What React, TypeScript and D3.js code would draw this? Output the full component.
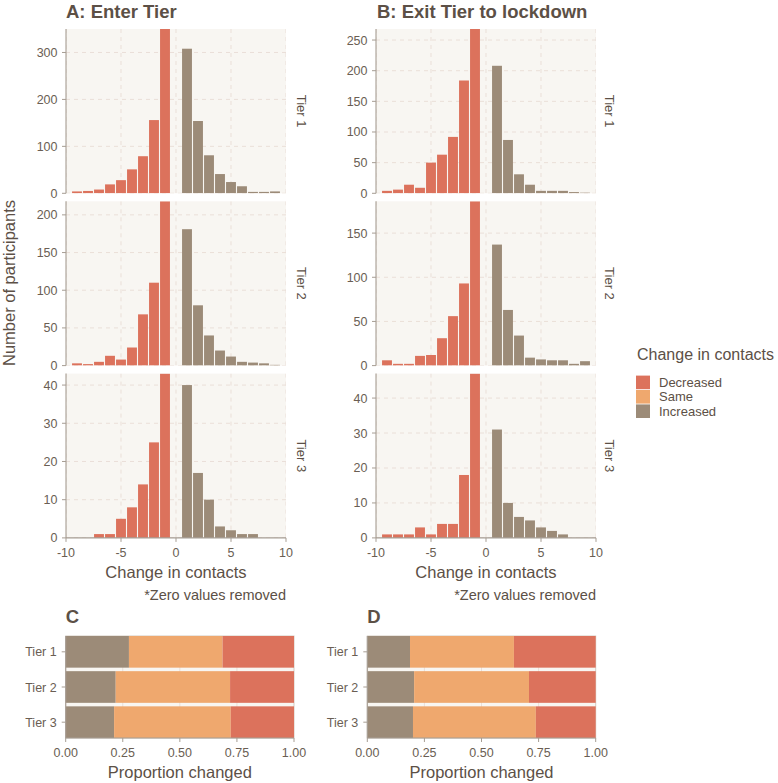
import React from "react";
import * as d3 from "d3";

// ---------- DATA ----------
const changeValues = [-9, -8, -7, -6, -5, -4, -3, -2, -1, 1, 2, 3, 4, 5, 6, 7, 8, 9];
const tierLabels = ["Tier 1", "Tier 2", "Tier 3"];
const categories = ["Decreased", "Same", "Increased"];

// A: Enter Tier (counts per change value)
const enterTier1 = [4, 5, 8, 19, 28, 51, 79, 156, 350, 308, 154, 81, 41, 24, 15, 3, 3, 4];
const enterTier2 = [3, 2, 5, 13, 8, 24, 68, 110, 218, 181, 80, 40, 20, 12, 5, 4, 3, 1];
const enterTier3 = [0, 0, 1, 1, 5, 8, 14, 25, 43, 40, 17, 10, 3, 2, 1, 1, 0, 0];

// B: Exit Tier to lockdown
const exitTier1 = [4, 6, 14, 9, 50, 63, 92, 184, 268, 208, 87, 31, 14, 4, 4, 4, 2, 1];
const exitTier2 = [6, 2, 2, 11, 12, 31, 56, 93, 186, 137, 63, 34, 9, 7, 6, 6, 2, 5];
const exitTier3 = [1, 1, 1, 3, 1, 4, 4, 18, 47, 31, 10, 6, 5, 3, 2, 1, 0, 0];

// C / D: proportion changed (Increased, Same, Decreased) per tier
const enterIncreased = [0.277, 0.219, 0.212];
const enterSame = [0.41, 0.501, 0.511];
const enterDecreased = [0.313, 0.28, 0.277];
const exitIncreased = [0.187, 0.205, 0.2];
const exitSame = [0.455, 0.503, 0.538];
const exitDecreased = [0.358, 0.292, 0.262];

const xTicks = [-10, -5, 0, 5, 10];
const propTicks = [0, 0.25, 0.5, 0.75, 1];

// ---------- STYLE ----------
const FONT = "'Liberation Sans', Arial, Helvetica, sans-serif";
const COLORS: Record<string, string> = {
  Decreased: "#DC725C",
  Same: "#EFA86E",
  Increased: "#9C8B78",
};
const PANEL_BG = "#F8F6F2";
const GRID = "#EADFD8";
const AXIS = "#A69D93";
const TEXT = "#5C5046";
const TICK_TEXT = "#6A5E53";

const panelTops = [29, 201.3, 373.6];
const panelH = 164.3;

type HistProps = {
  id: string;
  x0: number;
  x1: number;
  top: number;
  counts: number[];
  showXAxis: boolean;
  strip: string;
  stripX: number;
};

function HistPanel({ id, x0, x1, top, counts, showXAxis, strip, stripX }: HistProps) {
  const bottom = top + panelH;
  const x = d3.scaleLinear().domain([-10, 10]).range([x0, x1]);
  const y = d3.scaleLinear().domain([0, d3.max(counts) as number]).range([bottom, top]);
  const yTicks = y.ticks(4);
  const bw = (x(1) - x(0)) * 0.9;
  return (
    <g>
      <defs>
        <clipPath id={id}>
          <rect x={x0} y={top} width={x1 - x0} height={panelH} />
        </clipPath>
      </defs>
      <rect x={x0} y={top} width={x1 - x0} height={panelH} fill={PANEL_BG} />
      <g clipPath={`url(#${id})`}>
        {xTicks.map((t) => (
          <line key={"gx" + t} x1={x(t)} x2={x(t)} y1={top} y2={bottom} stroke={GRID} strokeWidth={1} strokeDasharray="4,4" />
        ))}
        {yTicks.map((t) => (
          <line key={"gy" + t} x1={x0} x2={x1} y1={y(t)} y2={y(t)} stroke={GRID} strokeWidth={1} strokeDasharray="4,4" />
        ))}
        {changeValues.map((v, i) => (
          <rect
            key={"b" + v}
            x={x(v) - bw / 2}
            width={bw}
            y={y(counts[i])}
            height={bottom - y(counts[i])}
            fill={v < 0 ? COLORS.Decreased : COLORS.Increased}
          />
        ))}
      </g>
      <line x1={x0} x2={x0} y1={top} y2={bottom} stroke={AXIS} strokeWidth={1.1} />
      {yTicks.map((t) => (
        <g key={"ty" + t}>
          <line x1={x0 - 4} x2={x0} y1={y(t)} y2={y(t)} stroke={AXIS} strokeWidth={1} />
          <text x={x0 - 8.5} y={y(t)} dy="0.36em" textAnchor="end" fontSize={12.5} fill={TICK_TEXT} fontFamily={FONT}>
            {t}
          </text>
        </g>
      ))}
      {showXAxis && (
        <g>
          <line x1={x0} x2={x1} y1={bottom} y2={bottom} stroke={AXIS} strokeWidth={1.1} />
          {xTicks.map((t) => (
            <g key={"tx" + t}>
              <line x1={x(t)} x2={x(t)} y1={bottom} y2={bottom + 4} stroke={AXIS} strokeWidth={1} />
              <text x={x(t)} y={556.5} textAnchor="middle" fontSize={12.5} fill={TICK_TEXT} fontFamily={FONT}>
                {t}
              </text>
            </g>
          ))}
        </g>
      )}
      <text
        transform={`translate(${stripX},${top + panelH / 2}) rotate(90)`}
        textAnchor="middle"
        dy="0.36em"
        fontSize={13}
        fill={TEXT}
        fontFamily={FONT}
      >
        {strip}
      </text>
    </g>
  );
}

type PropProps = {
  id: string;
  x0: number;
  x1: number;
  title: string;
  increased: number[];
  same: number[];
  decreased: number[];
};

function PropPanel({ x0, x1, title, increased, same, decreased }: PropProps) {
  const top = 636;
  const bottom = 738;
  const x = d3.scaleLinear().domain([0, 1]).range([x0, x1]);
  const yb = d3.scaleBand().domain(tierLabels).range([top, bottom]).paddingInner(0.1).paddingOuter(0);
  const rows = tierLabels.map((t, i) => ({ tier: t, Increased: increased[i], Same: same[i], Decreased: decreased[i] }));
  const stack = d3.stack<any>().keys(["Increased", "Same", "Decreased"]);
  const series = stack(rows);
  return (
    <g>
      <text x={x0} y={622.7} fontSize={18.5} fontWeight="bold" fill={TEXT} fontFamily={FONT}>
        {title}
      </text>
      <rect x={x0} y={top} width={x1 - x0} height={bottom - top} fill={PANEL_BG} stroke="#D3CBC2" strokeWidth={1} />
      {propTicks.slice(1, 4).map((t) => (
        <line key={"g" + t} x1={x(t)} x2={x(t)} y1={top} y2={bottom} stroke={GRID} strokeWidth={1} />
      ))}
      {series.map((s) => (
        <g key={s.key} fill={COLORS[s.key]}>
          {s.map((d: any, i: number) => (
            <rect
              key={i}
              x={x(d[0])}
              width={x(d[1]) - x(d[0])}
              y={yb(d.data.tier) as number}
              height={yb.bandwidth()}
            />
          ))}
        </g>
      ))}
      <line x1={x0} x2={x0} y1={top} y2={bottom} stroke={AXIS} strokeWidth={1.1} />
      <line x1={x0} x2={x1} y1={bottom} y2={bottom} stroke={AXIS} strokeWidth={1.1} />
      {tierLabels.map((t) => {
        const cy = (yb(t) as number) + yb.bandwidth() / 2;
        return (
          <g key={t}>
            <line x1={x0 - 4} x2={x0} y1={cy} y2={cy} stroke={AXIS} strokeWidth={1} />
            <text x={x0 - 9} y={cy} dy="0.36em" textAnchor="end" fontSize={12.5} fill={TICK_TEXT} fontFamily={FONT}>
              {t}
            </text>
          </g>
        );
      })}
      {propTicks.map((t) => (
        <g key={"t" + t}>
          <line x1={x(t)} x2={x(t)} y1={bottom} y2={bottom + 4} stroke={AXIS} strokeWidth={1} />
          <text x={x(t)} y={756.5} textAnchor="middle" fontSize={12.5} fill={TICK_TEXT} fontFamily={FONT}>
            {t.toFixed(2)}
          </text>
        </g>
      ))}
      <text x={(x0 + x1) / 2} y={777.5} textAnchor="middle" fontSize={16.5} fill={TEXT} fontFamily={FONT}>
        Proportion changed
      </text>
    </g>
  );
}

export default function App() {
  const enterCounts = [enterTier1, enterTier2, enterTier3];
  const exitCounts = [exitTier1, exitTier2, exitTier3];
  const A = { x0: 66, x1: 286, strip: 302 };
  const B = { x0: 376, x1: 596, strip: 610 };
  const keyTop = 375.6;
  const keyStep = 14.4;
  return (
    <svg
      width={778}
      height={783}
      style={{ position: "absolute", left: 0, top: 0, background: "#ffffff" }}
      fontFamily={FONT}
    >
      <rect x={0} y={0} width={778} height={783} fill="#ffffff" />
      {/* Titles */}
      <text x={A.x0} y={17.5} fontSize={18.5} fontWeight="bold" fill={TEXT}>
        A: Enter Tier
      </text>
      <text x={B.x0 + 1} y={17.5} fontSize={18.5} fontWeight="bold" fill={TEXT}>
        B: Exit Tier to lockdown
      </text>

      {/* Y axis title */}
      <text transform={`translate(9,283) rotate(-90)`} textAnchor="middle" dy="0.36em" fontSize={16.5} fill={TEXT}>
        Number of participants
      </text>

      {tierLabels.map((t, i) => (
        <HistPanel
          key={"A" + t}
          id={"clipA" + i}
          x0={A.x0}
          x1={A.x1}
          top={panelTops[i]}
          counts={enterCounts[i]}
          showXAxis={i === 2}
          strip={t}
          stripX={A.strip}
        />
      ))}
      {tierLabels.map((t, i) => (
        <HistPanel
          key={"B" + t}
          id={"clipB" + i}
          x0={B.x0}
          x1={B.x1}
          top={panelTops[i]}
          counts={exitCounts[i]}
          showXAxis={i === 2}
          strip={t}
          stripX={B.strip}
        />
      ))}

      {/* X axis titles and notes */}
      {[A, B].map((p, i) => (
        <g key={"xt" + i}>
          <text x={(p.x0 + p.x1) / 2} y={577.5} textAnchor="middle" fontSize={16.5} fill={TEXT}>
            Change in contacts
          </text>
          <text x={p.x1} y={600} textAnchor="end" fontSize={14.5} fill={TEXT}>
            *Zero values removed
          </text>
        </g>
      ))}

      {/* Legend */}
      <text x={637} y={360} fontSize={16} fill={TEXT}>
        Change in contacts
      </text>
      {categories.map((c, i) => (
        <g key={c}>
          <rect x={636} y={keyTop + i * keyStep} width={14} height={13.6} fill={COLORS[c]} />
          <text x={659} y={keyTop + i * keyStep + 6.8} dy="0.36em" fontSize={13} fill={TEXT}>
            {c}
          </text>
        </g>
      ))}

      <PropPanel id="C" x0={65.7} x1={294} title="C" increased={enterIncreased} same={enterSame} decreased={enterDecreased} />
      <PropPanel id="D" x0={367.3} x1={595.7} title="D" increased={exitIncreased} same={exitSame} decreased={exitDecreased} />
    </svg>
  );
}
